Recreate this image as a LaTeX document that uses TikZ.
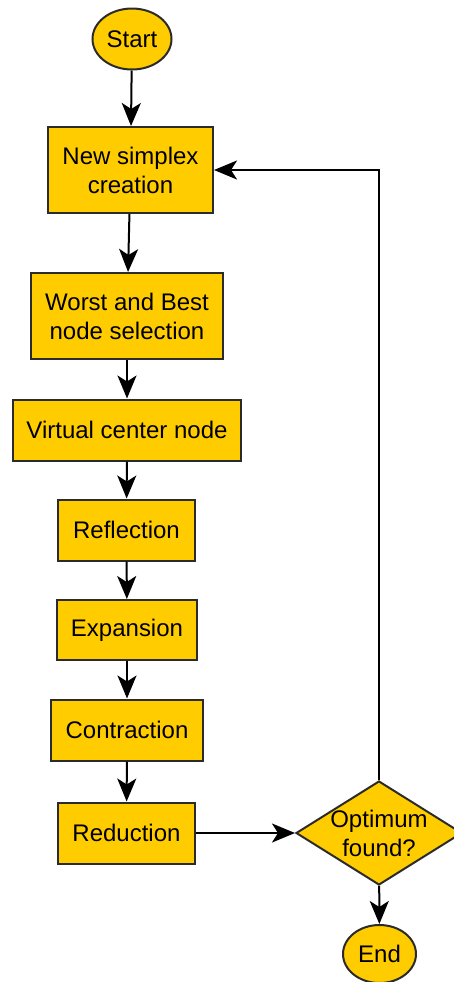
\documentclass[tikz,border=0pt]{standalone}
\usepackage{fontspec}
\setmainfont{Liberation Sans}
\usetikzlibrary{shapes.geometric,arrows.meta}
\definecolor{boxfill}{HTML}{FFCC00}
\definecolor{boxline}{HTML}{2B2B2B}

\begin{document}
\begin{tikzpicture}[x=0.5pt,y=-0.5pt,
  every node/.style={font=\fontsize{12}{14.5}\selectfont,align=center,inner sep=0pt},
  proc/.style={draw=boxline,line width=1pt,fill=boxfill,rectangle},
  term/.style={draw=boxline,line width=1pt,fill=boxfill,ellipse},
  decide/.style={draw=boxline,line width=1pt,fill=boxfill,diamond,aspect=1.6,inner sep=-3pt},
  flow/.style={line width=1pt,-{Stealth[length=11.5pt,width=9.5pt,inset=3pt]}}]
 \useasboundingbox (0,0) rectangle (454,982);
 % left column
 \node[term,minimum width=39.5pt,minimum height=30.5pt] (start) at (132,39) {Start};
 \node[proc,minimum width=82.5pt,minimum height=43pt] (new) at (130.5,170) {New simplex\\creation};
 \node[proc,minimum width=96pt,minimum height=43pt] (worst) at (127,316) {Worst and Best\\node selection};
 \node[proc,minimum width=114pt,minimum height=30.5pt] (virt) at (127,430) {Virtual center node};
 \node[proc,minimum width=68.5pt,minimum height=30.5pt] (refl) at (126.5,530) {Reflection};
 \node[proc,minimum width=70pt,minimum height=30pt] (expa) at (127,630) {Expansion};
 \node[proc,minimum width=76pt,minimum height=30.5pt] (contr) at (127,730) {Contraction};
 \node[proc,minimum width=68.5pt,minimum height=30.5pt] (redu) at (126.5,833) {Reduction};
 % right column
 \node[decide,minimum width=83pt,minimum height=52pt] (opt) at (379,833) {Optimum\\found?};
 \node[term,minimum width=36.5pt,minimum height=29pt] (end) at (379.5,954) {End};
 \draw[flow] (start) -- (new);
 \draw[flow] (new) -- (worst);
 \draw[flow] (worst) -- (virt);
 \draw[flow] (virt) -- (refl);
 \draw[flow] (refl) -- (expa);
 \draw[flow] (expa) -- (contr);
 \draw[flow] (contr) -- (redu);
 \draw[flow] (redu) -- (opt);
 \draw[flow] (opt) -- (end);
 \draw[flow] (opt.north) |- (new.east);
\end{tikzpicture}
\end{document}
